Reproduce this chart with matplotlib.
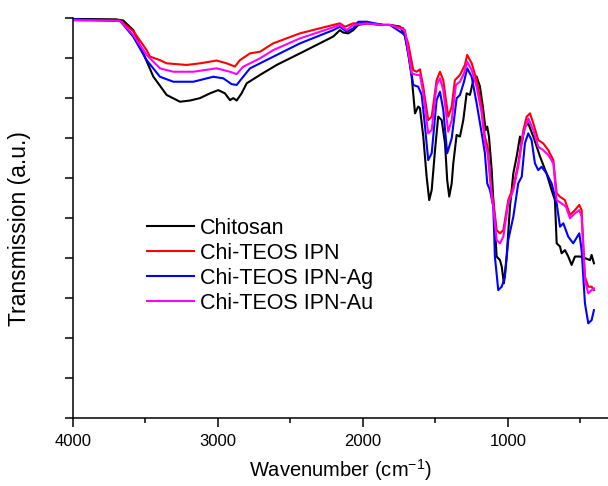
import matplotlib
matplotlib.use("Agg")
import matplotlib.pyplot as plt
from matplotlib.ticker import MultipleLocator, NullFormatter

plt.rcParams['font.family'] = ['Liberation Sans', 'DejaVu Sans']

# FTIR spectra (wavenumber in cm-1, transmission in a.u.)
chitosan_wn = [4000, 3703, 3653, 3584, 3515, 3446, 3354, 3262, 3193, 3124, 3055, 2998, 2952, 2917,
               2894, 2871, 2837, 2802, 2710, 2595, 2434, 2205, 2159, 2136, 2101, 2067, 2032, 1974,
               1860, 1814, 1745, 1710, 1688, 1664, 1641, 1619, 1607, 1584, 1561, 1543, 1526, 1503,
               1481, 1457, 1434, 1419, 1405, 1388, 1377, 1354, 1331, 1308, 1285, 1262, 1239, 1216,
               1193, 1170, 1154, 1143, 1131, 1112, 1101, 1078, 1055, 1043, 1028, 1009, 986, 963,
               940, 917, 905, 883, 860, 825, 779, 734, 699, 676, 664, 641, 630, 607, 584, 561,
               538, 503, 469, 434, 423, 407]
chitosan_t = [99.7, 99.6, 99.3, 96.9, 91.1, 85.3, 80.7, 79.0, 79.3, 79.9, 81.1, 81.9, 81.1, 79.4,
              79.9, 79.3, 81.1, 83.6, 85.7, 88.2, 91.1, 95.3, 96.9, 96.3, 96.1, 96.9, 98.2, 98.6,
              98.2, 98.2, 97.8, 95.3, 91.1, 85.3, 76.1, 77.8, 77.4, 70.3, 60.3, 54.4, 56.9, 66.9,
              75.3, 74.4, 68.6, 59.4, 55.3, 58.6, 63.6, 70.7, 70.3, 74.4, 81.1, 80.7, 84.4, 85.3,
              82.8, 76.9, 71.9, 72.8, 70.3, 61.9, 54.4, 40.3, 39.4, 37.8, 33.6, 40.3, 52.8, 61.1,
              65.3, 70.3, 68.6, 72.8, 73.6, 70.3, 65.3, 61.1, 56.9, 54.4, 43.6, 42.8, 41.1, 41.9,
              40.3, 38.2, 40.3, 40.3, 39.9, 39.4, 40.7, 38.6]

ipn_wn = [4000, 3676, 3584, 3492, 3469, 3400, 3354, 3216, 3124, 3009, 2940, 2883, 2848, 2779,
          2710, 2619, 2434, 2205, 2159, 2124, 2067, 1998, 1860, 1814, 1722, 1688, 1653, 1630,
          1607, 1584, 1550, 1526, 1492, 1469, 1446, 1412, 1388, 1366, 1331, 1297, 1281, 1250,
          1216, 1181, 1159, 1140, 1112, 1101, 1078, 1055, 1032, 998, 963, 929, 894, 871, 848,
          825, 791, 757, 722, 687, 664, 641, 607, 572, 538, 508, 492, 469, 446, 423, 407]
ipn_t = [99.4, 99.25, 96.7, 91.9, 90.3, 89.4, 88.6, 88.2, 88.6, 89.3, 88.6, 87.8, 89.4, 91.1,
         91.5, 93.6, 96.1, 98.2, 98.6, 97.75, 98.6, 98.6, 98.2, 98.2, 97.4, 93.6, 86.9, 86.5,
         87.1, 82.75, 74.4, 75.25, 84.4, 86.5, 84.4, 75.25, 77.75, 84.4, 85.7, 88.2, 90.7, 88.6,
         84.4, 77.75, 70.25, 67.75, 56.1, 54.4, 46.9, 46.1, 46.9, 54.4, 57.75, 63.6, 71.9, 75.25, 76.1,
         73.6, 69.4, 68.6, 66.9, 64.4, 56.1, 55.25, 54.4, 50.7, 51.9, 53.2, 51.9, 35.25, 32.75, 32.75, 31.9]

ag_wn = [4000, 3676, 3584, 3492, 3400, 3308, 3170, 3032, 2963, 2906, 2871, 2826, 2779, 2710,
         2619, 2434, 2205, 2159, 2112, 2067, 2032, 1974, 1860, 1814, 1710, 1676, 1653, 1619,
         1595, 1572, 1550, 1526, 1492, 1469, 1446, 1419, 1388, 1354, 1331, 1303, 1281, 1250,
         1216, 1181, 1159, 1143, 1124, 1101, 1090, 1067, 1043, 1021, 998, 963, 929, 905, 883,
         860, 837, 814, 791, 768, 734, 699, 664, 641, 618, 584, 550, 508, 492, 469, 446, 423, 407]
ag_t = [99.6, 99.25, 95.25, 89.4, 85.25, 84.0, 84.0, 85.25, 84.85, 83.4, 83.2, 85.25, 87.35, 88.6,
        90.25, 93.6, 96.9, 97.75, 96.5, 97.35, 99.0, 99.0, 98.2, 98.2, 95.7, 88.6, 83.2, 82.75,
        80.7, 72.75, 64.4, 66.1, 79.4, 81.5, 76.9, 66.1, 69.85, 79.85, 80.7, 84.0, 87.35, 85.25,
        78.6, 71.1, 66.1, 58.6, 56.9, 52.75, 40.25, 31.9, 32.75, 35.25, 44.4, 50.25, 58.6, 60.25, 68.6,
        71.1, 69.4, 63.6, 61.9, 62.75, 61.1, 58.6, 53.6, 47.75, 48.6, 45.25, 43.6, 46.1, 41.9, 28.6,
        23.6, 24.4, 26.9]

au_wn = [4000, 3676, 3584, 3492, 3400, 3308, 3170, 3009, 2917, 2871, 2826, 2710, 2619, 2434,
         2205, 2159, 2112, 2067, 1974, 1860, 1814, 1710, 1664, 1630, 1607, 1584, 1550, 1526,
         1492, 1469, 1446, 1412, 1388, 1359, 1331, 1303, 1281, 1250, 1216, 1181, 1159, 1140,
         1112, 1101, 1078, 1055, 1032, 998, 963, 929, 894, 860, 825, 791, 757, 722, 687, 664,
         630, 600, 572, 538, 508, 492, 469, 446, 423, 407]
au_t = [99.4, 99.25, 95.7, 90.7, 87.35, 86.5, 86.5, 87.35, 86.5, 85.9, 87.75, 89.85, 91.9, 94.85,
        97.6, 98.2, 96.9, 98.2, 98.6, 98.2, 98.2, 96.9, 86.1, 85.7, 85.7, 81.1, 71.1, 71.9,
        83.2, 84.85, 81.9, 71.5, 74.4, 83.2, 84.0, 86.1, 89.0, 86.9, 82.75, 76.1, 68.6, 66.1,
        55.25, 52.75, 44.4, 43.6, 45.25, 53.6, 56.9, 62.75, 71.1, 74.85, 71.9, 67.75, 66.9, 65.7, 63.6, 54.4,
        53.6, 52.75, 49.85, 51.1, 51.9, 50.25, 34.4, 31.1, 31.9, 32.35]

labels = ['Chitosan', 'Chi-TEOS IPN', 'Chi-TEOS IPN-Ag', 'Chi-TEOS IPN-Au']
colors = ['black', '#ff0000', '#0000ff', '#ff00ff']

fig = plt.figure(figsize=(6.08, 4.86), dpi=100)
ax = fig.add_axes([0.12, 0.1405, 0.88, 0.823])

series = [(chitosan_wn, chitosan_t), (ipn_wn, ipn_t), (ag_wn, ag_t), (au_wn, au_t)]
for (wn, t), lab, c in zip(series, labels, colors):
    ax.plot(wn, t, color=c, lw=1.5, label=lab)

ax.set_xlim(4000, 310)
ax.set_ylim(0, 100)
ax.xaxis.set_major_locator(MultipleLocator(1000))
ax.xaxis.set_minor_locator(MultipleLocator(500))
ax.yaxis.set_major_locator(MultipleLocator(10))
ax.yaxis.set_major_formatter(NullFormatter())

for s in ['top', 'right']:
    ax.spines[s].set_visible(False)
for s in ['left', 'bottom']:
    ax.spines[s].set_linewidth(1.1)

ax.tick_params(axis='x', which='major', direction='out', length=6.5, width=1.1, labelsize=12, pad=5)
ax.tick_params(axis='x', which='minor', direction='out', length=3.5, width=1.1)
ax.tick_params(axis='y', which='major', direction='out', length=6, width=1.1)

# superscript kept small, like the original
ax.set_xlabel('Wavenumber (cm$^{\\mathregular{-1}}$)', fontsize=14.5, labelpad=6)
ax.set_ylabel('Transmission (a.u.)', fontsize=16.5)
ax.yaxis.set_label_coords(-0.078, 0.472)

ax.legend(loc='center left', bbox_to_anchor=(0.138, 0.38), frameon=False, fontsize=15.5,
          handlelength=2.2, handletextpad=0.25, labelspacing=0.18, borderpad=0, borderaxespad=0)

fig.savefig('out.png', dpi=100)
